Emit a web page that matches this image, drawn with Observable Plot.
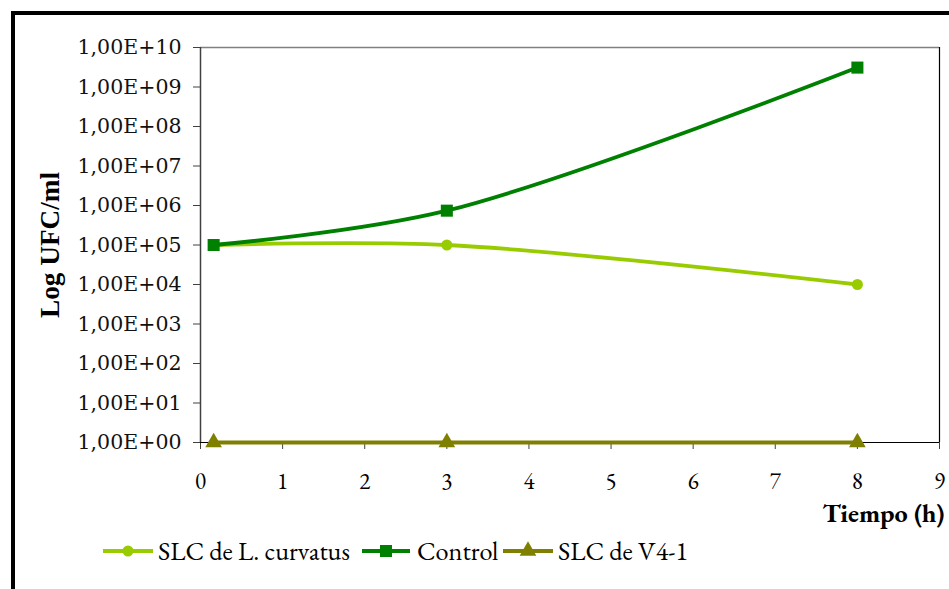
<!DOCTYPE html>
<html>
<head>
<meta charset="utf-8">
<script src="https://cdn.jsdelivr.net/npm/d3@7"></script>
<script src="https://cdn.jsdelivr.net/npm/@observablehq/plot@0.6"></script>
<style>
  html, body { margin: 0; padding: 0; background: #fff; }
  #wrap { position: relative; width: 949px; height: 589px; overflow: hidden; font-family: "EB Garamond", "Liberation Serif", serif; }
  #frame { position: absolute; left: 11px; top: 11px; width: 1000px; height: 1000px; border: 4px solid #000; box-sizing: border-box; }
  #chart { position: absolute; left: 0; top: 0; }
  #legend { position: absolute; top: 535px; left: 0; width: 949px; height: 32px; }
  .sw { position: absolute; top: 0; }
  .lt { position: absolute; top: 0; height: 32px; line-height: 32px; color: #000; white-space: nowrap; font-family: "EB Garamond", "Liberation Serif", serif; }
</style>
</head>
<body>
<div id="wrap">
  <div id="frame"></div>
  <div id="chart"></div>
  <div id="legend"></div>
</div>
<script>
// Data
const times = [0.16, 3, 8];
const curvatus = [1e5, 1e5, 1e4];
const control = [1e5, 7.4e5, 3.1e9];
const v41 = [1, 1, 1];
const seriesNames = ["SLC de L. curvatus", "Control", "SLC de V4-1"];
const seriesColors = ["#99CC00", "#008000", "#808000"];
const seriesSymbols = ["circle", "square", "triangle"];
const yTicks = [1e0, 1e1, 1e2, 1e3, 1e4, 1e5, 1e6, 1e7, 1e8, 1e9, 1e10];
const xTicks = [0, 1, 2, 3, 4, 5, 6, 7, 8, 9];
const xLabel = "Tiempo (h)";
const yLabel = "Log UFC/ml";

const ctx = document.createElement("canvas").getContext("2d");
function fit(text, family, weight, target) {
  ctx.font = `${weight} 100px ${family}`;
  return 100 * target / ctx.measureText(text).width;
}
const GAR = "'EB Garamond', 'Liberation Serif', serif";
const DJS = "'DejaVu Serif', serif";
const ySize = fit("1,00E+10", DJS, "normal", 104);
const xLabSize = fit(xLabel, GAR, "bold", 122);
const yLabSize = fit(yLabel, "'Liberation Serif', serif", "bold", 146);
const legSize = fit(seriesNames[0], GAR, "normal", 192);

const allSeries = [curvatus, control, v41];
const rows = [];
allSeries.forEach((vals, si) => vals.forEach((v, i) => rows.push({series: seriesNames[si], t: times[i], v})));

const fmt = d => "1,00E+" + String(Math.round(Math.log10(d))).padStart(2, "0");
const dotR = {circle: 5.5, square: 6.8, triangle: 6.2};

const marks = [
  Plot.ruleY([1e10], {stroke: "#808080", strokeWidth: 1.5}),
  Plot.ruleX([9], {y1: 1, y2: 1e10, stroke: "#000", strokeWidth: 1.2}),
  Plot.axisY({ticks: yTicks, tickFormat: fmt, tickSize: 7, tickPadding: 12, fontSize: ySize, fontFamily: DJS, fill: "#111", label: null, stroke: "#404040"}),
  Plot.axisX({ticks: xTicks, tickFormat: d => String(d), tickSize: 7, tickPadding: 23, fontSize: 23, fontFamily: GAR, label: null, stroke: "#404040"}),
  Plot.ruleX([0], {y1: 1, y2: 1e10, stroke: "#404040", strokeWidth: 1.5}),
  Plot.ruleY([1], {stroke: "#000", strokeWidth: 1.2}),
];
seriesNames.forEach((name, si) => {
  const data = rows.filter(r => r.series === name);
  marks.push(Plot.line(data, {x: "t", y: "v", stroke: seriesColors[si], strokeWidth: 3.8, curve: si === 2 ? "linear" : "catmull-rom"}));
  marks.push(Plot.dot(data, {x: "t", y: "v", fill: seriesColors[si], symbol: seriesSymbols[si], r: dotR[seriesSymbols[si]], stroke: "none"}));
});
marks.push(Plot.text([xLabel], {frameAnchor: "bottom-right", dx: 5, dy: 79, fontSize: xLabSize, fontFamily: GAR, fontWeight: "bold", textAnchor: "end"}));
marks.push(Plot.text([yLabel], {frameAnchor: "left", dx: -150, rotate: -90, textAnchor: "middle", fontSize: yLabSize, fontFamily: "'Liberation Serif', serif", fontWeight: "bold"}));

const chart = Plot.plot({
  width: 949,
  height: 535,
  marginLeft: 200,
  marginRight: 10,
  marginTop: 47,
  marginBottom: 93,
  style: {fontFamily: GAR, fontSize: "22px", color: "#000", background: "transparent"},
  x: {domain: [0, 9]},
  y: {type: "log", domain: [1, 1e10]},
  marks
});
document.getElementById("chart").appendChild(chart);

// Legend
const legend = document.getElementById("legend");
const swatchX = [103, 362, 503];
const swatchW = [50, 48, 50];
const textX = [158, 417, 558];
seriesNames.forEach((name, si) => {
  const sym = d3.symbol().type({circle: d3.symbolCircle, square: d3.symbolSquare, triangle: d3.symbolTriangle}[seriesSymbols[si]]).size(Math.PI * dotR[seriesSymbols[si]] ** 2)();
  const sw = document.createElement("div");
  sw.className = "sw";
  sw.style.left = swatchX[si] + "px";
  sw.innerHTML = `<svg width="${swatchW[si]}" height="32" style="display:block"><line x1="0" x2="${swatchW[si]}" y1="16" y2="16" stroke="${seriesColors[si]}" stroke-width="3.8"/><path transform="translate(${swatchW[si] / 2},16)" d="${sym}" fill="${seriesColors[si]}"/></svg>`;
  legend.appendChild(sw);
  const t = document.createElement("div");
  t.className = "lt";
  t.style.left = textX[si] + "px";
  t.style.fontSize = legSize + "px";
  t.textContent = name;
  legend.appendChild(t);
});
</script>
</body>
</html>
